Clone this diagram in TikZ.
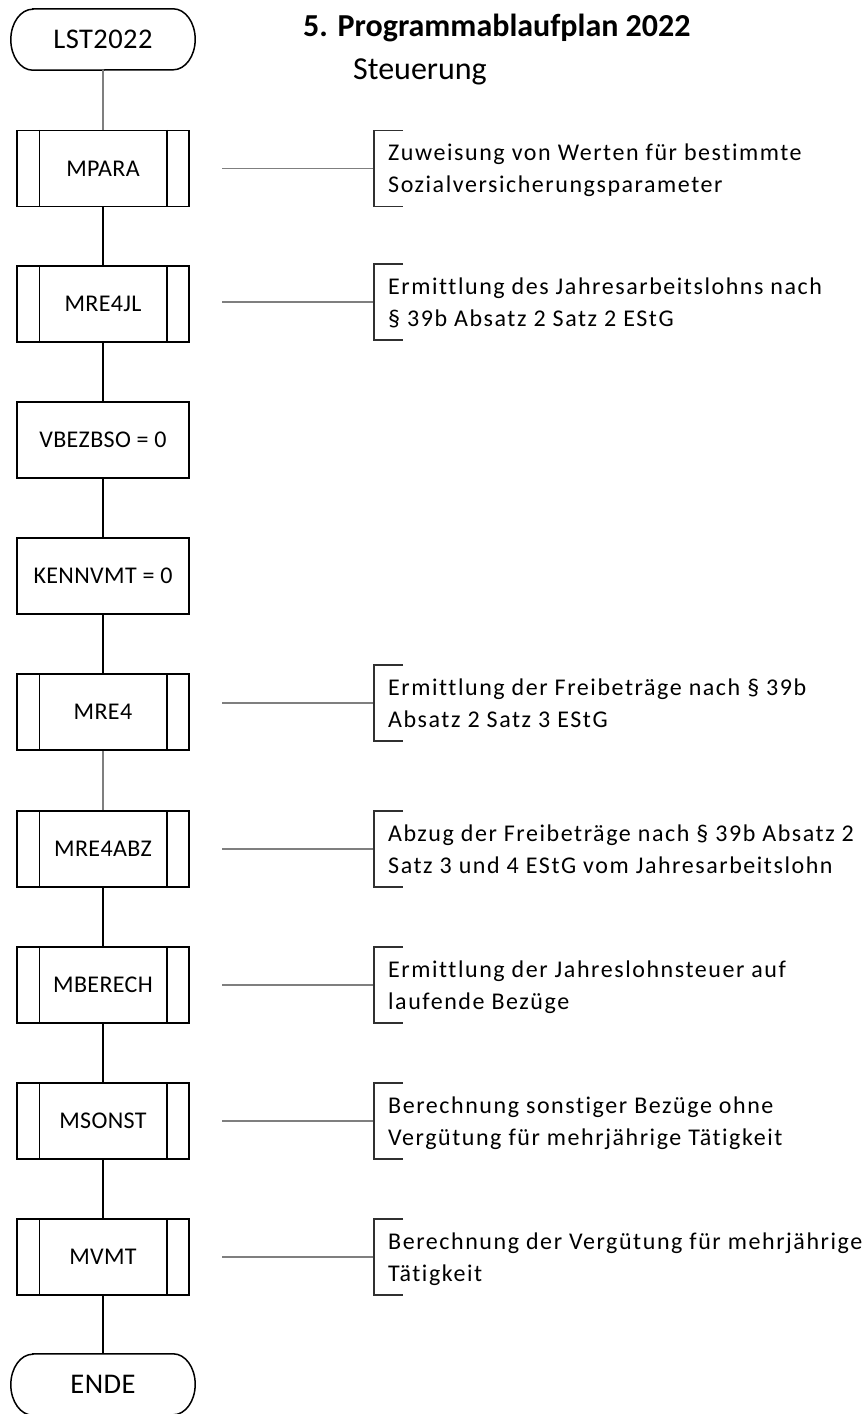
\documentclass[tikz,border=0pt]{standalone}
\usepackage{fontspec}
\setmainfont{Carlito}[Ligatures={NoCommon}]
\newfontfamily\notefamily{Carlito}[LetterSpace=6.5,Ligatures={NoCommon}]
\newfontfamily\boxfamily{Carlito}[LetterSpace=1.5,Ligatures={NoCommon}]
\usetikzlibrary{calc}
\definecolor{linegray}{HTML}{7F7F7F}
\definecolor{bracketgray}{HTML}{303030}
\newcommand\annot[5]{% #1 name, #2 connector y, #3 bracket y, #4 line 1, #5 line 2
  \coordinate (#1A) at (222,-#2);
  \coordinate (#1B) at (374,-#2);
  \coordinate (#1C) at (374,-#3);
  \draw[gline] (#1A) -- (#1B);
  \draw[bracket] ($(#1C)+(29,38)$) -- ($(#1C)+(0,38)$) -- ($(#1C)+(0,-38)$) -- ($(#1C)+(29,-38)$);
  \node[note] (#1T1) at ($(#1C)+(14,8)$) {#4};
  \node[note] (#1T2) at ($(#1C)+(14,-24)$) {#5};
}
\newcommand\termoutline[1]{%
  \draw[line] ([xshift=22pt]#1.north west) -- ([xshift=-22pt]#1.north east)
    arc[start angle=90,end angle=-90,x radius=22pt,y radius=30.5pt]
    -- ([xshift=22pt]#1.south west)
    arc[start angle=270,end angle=90,x radius=22pt,y radius=30.5pt] -- cycle;
}
\begin{document}
\begin{tikzpicture}[x=1pt,y=1pt,
  line/.style={line width=1.5pt, black},
  gline/.style={line width=1.4pt, color=linegray},
  proc/.style={draw, line width=1.5pt, minimum width=172pt, minimum height=76pt, inner sep=0pt, font=\boxfamily\fontsize{24}{28}\selectfont},
  term/.style={minimum width=184pt, minimum height=61pt, inner sep=0pt, font=\boxfamily\fontsize{28.5}{34}\selectfont},
  note/.style={anchor=base west, inner sep=0pt, font=\notefamily\fontsize{24}{32}\selectfont},
  bracket/.style={line width=1.2pt, color=bracketgray}]
\useasboundingbox (0,0) rectangle (864,-1414);

\node[anchor=base west, inner sep=0pt, font=\bfseries\fontsize{32}{38}\selectfont] (title) at (303,-36) {5. Programmablaufplan 2022};
\node[anchor=base west, inner sep=0pt, font=\fontsize{32}{38}\selectfont] (subtitle) at (353,-79) {Steuerung};

\node[term] (start) at (103,-39.5) {LST2022};
\termoutline{start}

\node[proc] (mpara)   at (103,-168.5) {MPARA};
\node[proc] (mre4jl)  at (103,-304) {MRE4JL};
\node[proc] (vbezbso) at (103,-440) {VBEZBSO = 0};
\node[proc] (kennvmt) at (103,-576) {KENNVMT = 0};
\node[proc] (mre4)    at (103,-712) {MRE4};
\node[proc] (mre4abz) at (103,-849) {MRE4ABZ};
\node[proc] (mberech) at (103,-985) {MBERECH};
\node[proc] (msonst)  at (103,-1121) {MSONST};
\node[proc] (mvmt)    at (103,-1257) {MVMT};

\node[term] (ende) at (103,-1384.5) {ENDE};
\termoutline{ende}

\foreach \n in {mpara,mre4jl,mre4,mre4abz,mberech,msonst,mvmt}
  \draw[line] ([xshift=23pt]\n.north west) -- ([xshift=23pt]\n.south west)
              ([xshift=-23pt]\n.north east) -- ([xshift=-23pt]\n.south east);

\draw[gline] (start) -- (mpara);
\draw[line] (mpara) -- (mre4jl);
\draw[line] (mre4jl) -- (vbezbso);
\draw[line] (vbezbso) -- (kennvmt);
\draw[line] (kennvmt) -- (mre4);
\draw[gline] (mre4) -- (mre4abz);
\draw[line] (mre4abz) -- (mberech);
\draw[line] (mberech) -- (msonst);
\draw[line] (msonst) -- (mvmt);
\draw[line] (mvmt) -- (ende);

\annot{mpara}{168.5}{168.5}{Zuweisung von Werten für bestimmte}{Sozialversicherungsparameter}
\annot{mre4jl}{302}{302}{Ermittlung des Jahresarbeitslohns nach}{§ 39b Absatz 2 Satz 2 EStG}
\annot{mre4}{703}{703}{Ermittlung der Freibeträge nach § 39b}{Absatz 2 Satz 3 EStG}
\annot{mre4abz}{849}{849}{Abzug der Freibeträge nach § 39b Absatz 2}{Satz 3 und 4 EStG vom Jahresarbeitslohn}
\annot{mberech}{985}{985}{Ermittlung der Jahreslohnsteuer auf}{laufende Bezüge}
\annot{msonst}{1121}{1121}{Berechnung sonstiger Bezüge ohne}{Vergütung für mehrjährige Tätigkeit}
\annot{mvmt}{1257}{1257}{Berechnung der Vergütung für mehrjährige}{Tätigkeit}
\end{tikzpicture}
\end{document}
